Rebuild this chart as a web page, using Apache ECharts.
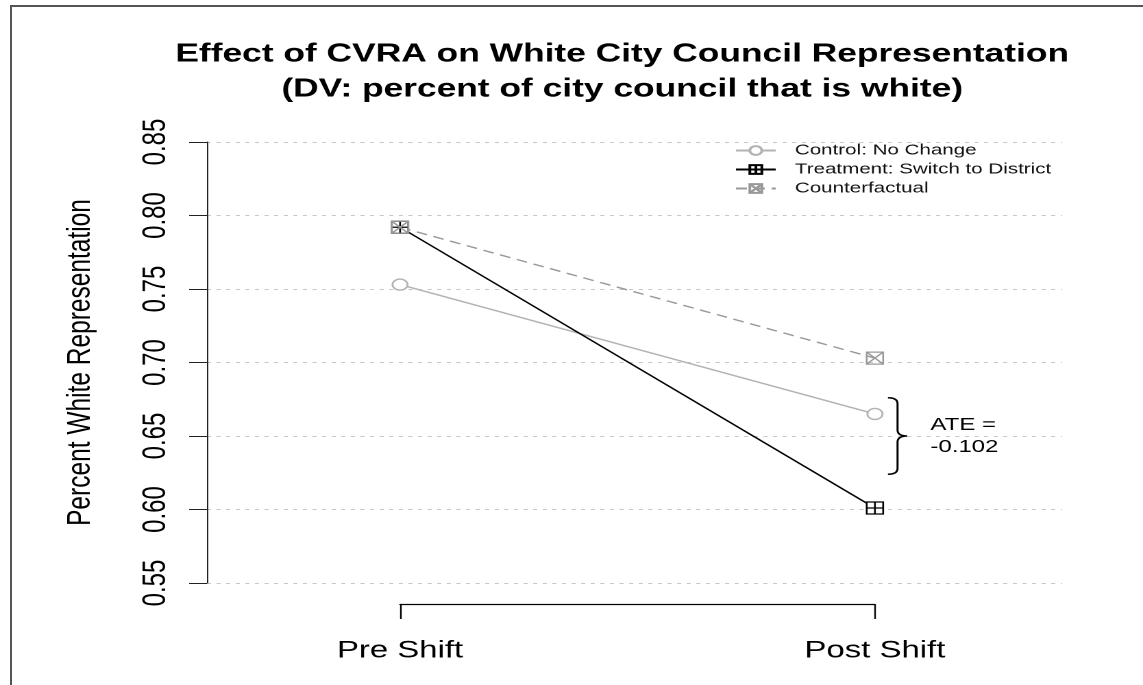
<!DOCTYPE html>
<html><head><meta charset="utf-8">
<script src="https://cdn.jsdelivr.net/npm/echarts@6/dist/echarts.min.js"></script>
<style>
html,body{margin:0;padding:0;background:#fff;overflow:hidden;width:1143px;height:685px;}
#frame{position:absolute;left:10px;top:5px;width:1300px;height:900px;border:2px solid #555;box-sizing:border-box;}
#chart{position:absolute;left:0;top:0;width:834px;height:685px;transform:scaleX(1.3705);transform-origin:0 0;}
</style></head><body>
<div id="frame"></div>
<div id="chart"></div>
<script>
// ---- data ----
const categories = ['Pre Shift', 'Post Shift'];
const seriesNames = ['Control: No Change', 'Treatment: Switch to District', 'Counterfactual'];
const controlValues = [0.753, 0.665];
const treatmentValues = [0.792, 0.601];
const counterfactualValues = [0.792, 0.703];
const yTicks = [0.55, 0.60, 0.65, 0.70, 0.75, 0.80, 0.85];
const braceRange = [0.676, 0.624];
const titleLines = ['Effect of CVRA on White City Council Representation', '(DV: percent of city council that is white)'];
const yAxisTitle = 'Percent White Representation';

const ate = treatmentValues[1] - counterfactualValues[1];
const ateText = 'ATE =\n' + ate.toFixed(3);

const FONT = 'Liberation Sans, Arial, sans-serif';
const W = 834;
const plusSquare = 'path://M0,0H10V10H0Z M5,0V10 M0,5H10';
const crossSquare = 'path://M0,0H10V10H0Z M0,0L10,10 M10,0L0,10';

const chart = echarts.init(document.getElementById('chart'), null, {devicePixelRatio: 2});
const option = {
  animation: false,
  title: {
    text: titleLines.join('\n'),
    left: 449, top: 32, textAlign: 'center',
    textStyle: {fontFamily: FONT, fontSize: 25.8, fontWeight: 'bold', color: '#000', lineHeight: 35}
  },
  legend: {
    left: 536, top: 143, orient: 'vertical', padding: 0,
    itemWidth: 29, itemHeight: 11, itemGap: 4,
    data: seriesNames,
    textStyle: {fontFamily: FONT, fontSize: 15, color: '#111', lineHeight: 15, padding: [0, 0, 0, 9]}
  },
  grid: [
    {left: 151, right: W - 775, top: 142, bottom: 102},
    {left: 291.9, right: W - 638.4, top: 142, bottom: 102}
  ],
  xAxis: [
    {gridIndex: 0, type: 'value', min: 0, max: 1, show: false},
    {gridIndex: 1, type: 'category', data: categories, boundaryGap: false, offset: 21,
     axisLine: {show: true, lineStyle: {color: '#000', width: 1.2}},
     axisTick: {show: true, length: 15, lineStyle: {color: '#000', width: 1.2}},
     axisLabel: {fontFamily: FONT, fontSize: 24, color: '#000', margin: 35},
     splitLine: {show: false}}
  ],
  yAxis: [
    {gridIndex: 0, type: 'value', min: yTicks[0], max: yTicks[yTicks.length - 1], interval: 0.05,
     name: yAxisTitle, nameLocation: 'middle', nameRotate: 90, nameGap: 80,
     nameTextStyle: {fontFamily: FONT, fontSize: 24.5, color: '#000'},
     axisLine: {show: true, lineStyle: {color: '#222', width: 1}},
     axisTick: {show: true, length: 13, lineStyle: {color: '#222', width: 1}},
     axisLabel: {rotate: 90, fontFamily: FONT, fontSize: 24, color: '#000', margin: 25,
                 formatter: v => v.toFixed(2)},
     splitLine: {show: true, lineStyle: {color: '#c8c8c8', type: [3, 4], width: 1}}},
    {gridIndex: 1, type: 'value', min: yTicks[0], max: yTicks[yTicks.length - 1], show: false}
  ],
  series: [
    {name: seriesNames[0], type: 'line', xAxisIndex: 1, yAxisIndex: 1, data: controlValues,
     symbol: 'circle', symbolSize: 11, clip: false,
     lineStyle: {color: '#b3b3b3', width: 1.4},
     itemStyle: {color: '#fff', borderColor: '#b3b3b3', borderWidth: 1.4}},
    {name: seriesNames[1], type: 'line', xAxisIndex: 1, yAxisIndex: 1, data: treatmentValues,
     symbol: plusSquare, symbolSize: 12, clip: false,
     lineStyle: {color: '#000', width: 1.4},
     itemStyle: {color: '#fff', borderColor: '#000', borderWidth: 1.3}},
    {name: seriesNames[2], type: 'line', xAxisIndex: 1, yAxisIndex: 1, data: counterfactualValues,
     symbol: crossSquare, symbolSize: 12, clip: false,
     lineStyle: {color: '#999', width: 1.4, type: [8, 5]},
     itemStyle: {color: 'rgba(255,255,255,0)', borderColor: '#999', borderWidth: 1.3}},
    {type: 'custom', xAxisIndex: 1, yAxisIndex: 1, clip: false, silent: true,
     data: [[1, braceRange[0], braceRange[1]]],
     renderItem: function (params, api) {
       const top = api.coord([api.value(0), api.value(1)]);
       const bot = api.coord([api.value(0), api.value(2)]);
       const x0 = top[0] + 9.5, x1 = top[0] + 16.5, x2 = top[0] + 23.5;
       const yT = top[1], yB = bot[1], yM = (yT + yB) / 2, r = 6;
       const d = 'M' + x0 + ',' + yT + ' Q' + x1 + ',' + yT + ' ' + x1 + ',' + (yT + r) +
         ' L' + x1 + ',' + (yM - r) + ' Q' + x1 + ',' + yM + ' ' + x2 + ',' + yM +
         ' Q' + x1 + ',' + yM + ' ' + x1 + ',' + (yM + r) +
         ' L' + x1 + ',' + (yB - r) + ' Q' + x1 + ',' + yB + ' ' + x0 + ',' + yB;
       return {type: 'group', children: [
         {type: 'path', shape: {pathData: d}, style: {stroke: '#000', fill: 'none', lineWidth: 1.5}},
         {type: 'text', x: top[0] + 40.5, y: yM,
          style: {text: ateText, fontFamily: FONT, fontSize: 17.5, lineHeight: 22, fill: '#000',
                  align: 'left', verticalAlign: 'middle'}}
       ]};
     }}
  ]
};
chart.setOption(option);
</script>
</body></html>
